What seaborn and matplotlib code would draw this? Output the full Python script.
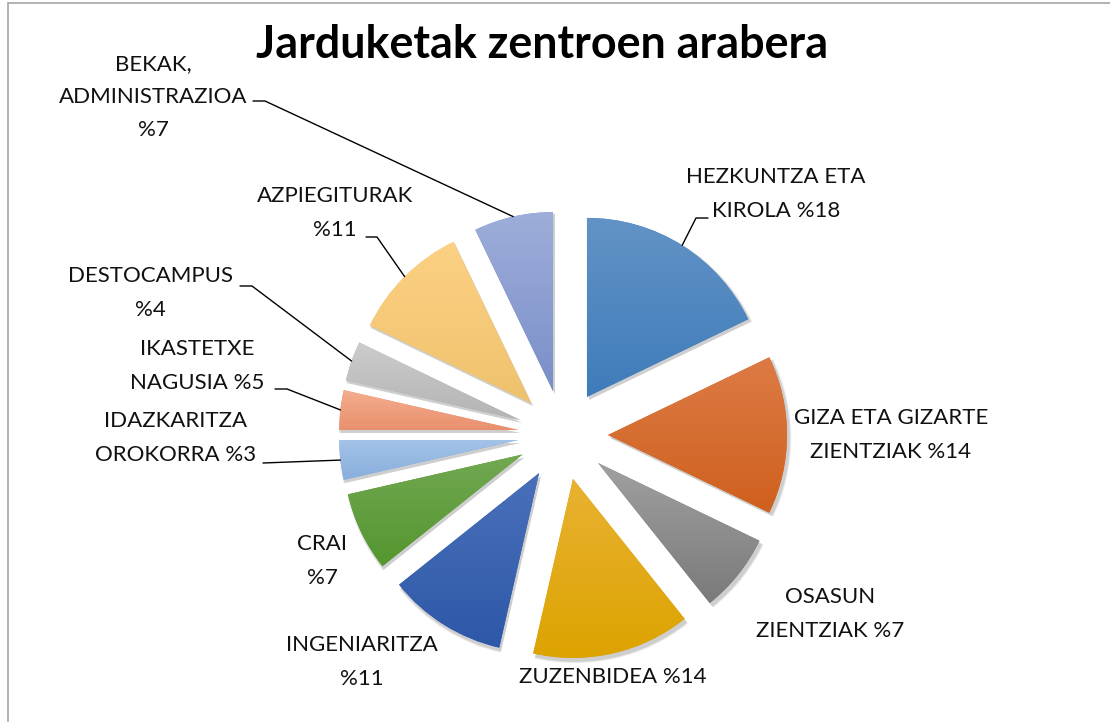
import matplotlib
matplotlib.use("Agg")
import matplotlib.pyplot as plt
import matplotlib.colors as mcolors
from matplotlib.patches import Wedge, Rectangle
import numpy as np
import seaborn as sns

# data (slice sizes, labels as printed)
labels = ["HEZKUNTZA ETA\nKIROLA %18", "GIZA ETA GIZARTE\nZIENTZIAK %14",
          "OSASUN\nZIENTZIAK %7", "ZUZENBIDEA %14", "INGENIARITZA\n%11",
          "CRAI\n%7", "IDAZKARITZA\nOROKORRA %3", "IKASTETXE\nNAGUSIA %5",
          "DESTOCAMPUS\n%4", "AZPIEGITURAK\n%11", "BEKAK,\nADMINISTRAZIOA\n%7"]
counts = [5, 4, 2, 4, 3, 2, 1, 1, 1, 3, 2]

# gradient colours per slice (top -> bottom)
top_colors = ["#6393C6", "#DD7B45", "#A0A0A0", "#E8B232", "#4A70BA", "#72A852",
              "#A3C3E8", "#F5AE8E", "#CCCCCC", "#FDD184", "#9EAEDA"]
bottom_colors = ["#3E7CBA", "#CF601E", "#7A7A7A", "#DDA300", "#2D58A8", "#54962F",
                 "#88AEDC", "#E8906E", "#B4B4B4", "#EEC26C", "#7A8EC8"]
title = "Jarduketak zentroen arabera"

sns.set_style("white")
plt.rcParams["font.family"] = ["Lato", "DejaVu Sans"]

W, H = 1110, 722
fig = plt.figure(figsize=(W / 100, H / 100), dpi=100)
ax = fig.add_axes([0, 0, 1, 1])

R = 179
cx, cy = 563, H - 435
# explode is in data units here (radius is not 1)
wedges, _ = ax.pie(counts, radius=R, center=(cx, cy), startangle=90,
                   counterclock=False, explode=[45] * len(counts),
                   colors=bottom_colors, wedgeprops=dict(linewidth=0),
                   frame=True)

for w, c_top, c_bot in zip(wedges, top_colors, bottom_colors):
    w.set_zorder(2)
    # soft shadow
    for k, a in [(6, 0.05), (4, 0.07), (2, 0.08)]:
        sh = Wedge((w.center[0] + 2, w.center[1] - 3), w.r + k * 0.4,
                   w.theta1, w.theta2, facecolor="black", alpha=a,
                   linewidth=0, zorder=1)
        ax.add_patch(sh)
    # vertical gradient fill, lighter on top
    ext = w.get_path().get_extents()
    top = np.array(mcolors.to_rgb(c_top))
    bot = np.array(mcolors.to_rgb(c_bot))
    grad = np.linspace(0, 1, 256)[:, None, None]
    img = top[None, None, :] * (1 - grad) + bot[None, None, :] * grad
    im = ax.imshow(img, extent=[ext.x0, ext.x1, ext.y0, ext.y1],
                   origin="upper", aspect="auto", zorder=3,
                   interpolation="bilinear")
    im.set_clip_path(w)

# labels and leader lines
fs = 16
ls = 1.82
txt_pos = [(776, 194), (891, 435), (830, 614), (613, 677), (362, 662),
           (322, 561), (176, 438), (197, 366), (150, 293), (335, 213),
           (153, 97)]
for s, (x, y) in zip(labels, txt_pos):
    ax.text(x, H - y, s, ha="center", va="center", fontsize=fs,
            linespacing=ls, color="#111111", zorder=5)

leaders = {0: [(708, 218), (696, 218)], 9: [(366, 237), (377, 237)],
           8: [(240, 286), (252, 286)], 7: [(275, 389), (287, 389)],
           6: [(263, 463)], 10: [(253, 101), (265, 101)]}
for i, pts in leaders.items():
    w = wedges[i]
    mid = np.deg2rad((w.theta1 + w.theta2) / 2)
    ex = w.center[0] + w.r * np.cos(mid)
    ey = w.center[1] + w.r * np.sin(mid)
    xs = [p[0] for p in pts] + [ex]
    ys = [H - p[1] for p in pts] + [ey]
    ax.plot(xs, ys, color="black", lw=1, zorder=4)

ax.text(542, H - 45, title, ha="center", va="center", fontsize=32.3,
        fontweight="bold", color="black", zorder=5)

ax.add_patch(Rectangle((8, -10), W + 20, H - 3 + 10, fill=False,
                       edgecolor="#a6a6a6", lw=1.2, zorder=6))

ax.set_xlim(0, W)
ax.set_ylim(0, H)
ax.set_aspect("equal")
ax.axis("off")
fig.savefig("out.png", dpi=100)
